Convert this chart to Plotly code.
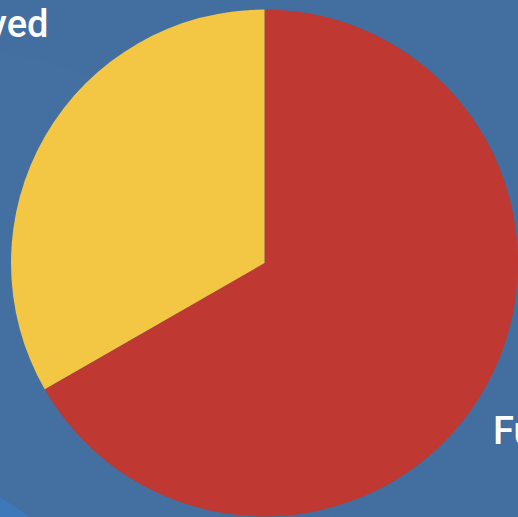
import plotly.graph_objects as go

# slice data
labels = ["Full", "Resolved"]
values = [66.7, 33.3]
colors = ["#bf3831", "#f3c744"]

W, H = 518, 517

fig = go.Figure()
fig.add_trace(go.Pie(labels=labels, values=values, sort=False, direction="clockwise",
                     rotation=0, textinfo="none", hoverinfo="label+percent",
                     marker=dict(colors=colors, line=dict(width=0)),
                     domain=dict(x=[11 / W, 1], y=[0, 508 / H]), showlegend=False))

# labels sit outside the pie and run off the edges, like the original
fig.add_annotation(text=labels[1], x=50 / W, y=1 - 24 / H, xref="paper", yref="paper",
                   xanchor="right", yanchor="middle", showarrow=False,
                   font=dict(family="Roboto", size=38, color="white", weight=500))
fig.add_annotation(text=labels[0], x=491 / W, y=1 - 431 / H, xref="paper", yref="paper",
                   xanchor="left", yanchor="middle", showarrow=False,
                   font=dict(family="Roboto", size=38, color="white", weight=500))

# faint background texture
fig.add_shape(type="path", xref="paper", yref="paper", layer="below",
              path="M 0 0 L 0 %f L %f 0 Z" % (20 / H, 30 / W),
              fillcolor="#3a76bd", line=dict(width=0))
fig.add_shape(type="circle", xref="paper", yref="paper", layer="below",
              x0=-0.6, y0=-0.3, x1=0.5, y1=0.9,
              fillcolor="rgba(80,140,170,0.10)", line=dict(width=0))

fig.update_layout(width=W, height=H, margin=dict(l=0, r=0, t=0, b=0),
                  paper_bgcolor="#426ea0", plot_bgcolor="#426ea0")

# drop the page's default body margin so the chart fills the window
fig.write_html("out.html", config={"displayModeBar": False},
               post_script="document.body.style.margin='0';")
